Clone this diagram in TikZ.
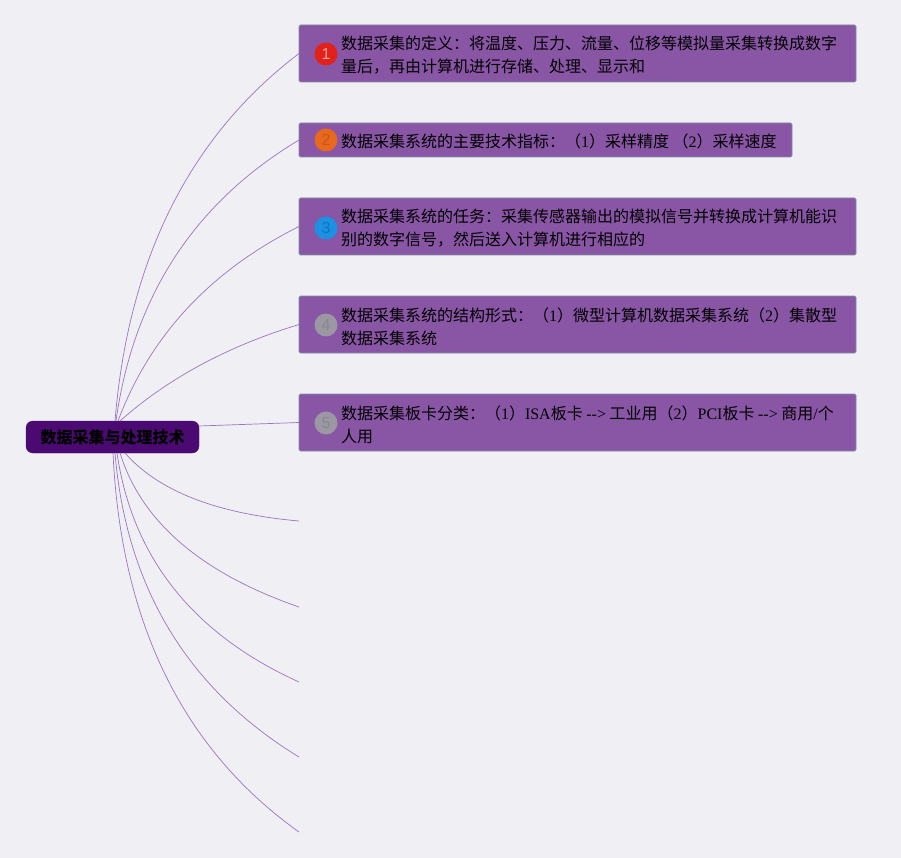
\documentclass[tikz,border=0pt]{standalone}
\usepackage{fontspec}
\setmainfont{Noto Sans CJK SC}
\newfontfamily\latf{Liberation Serif}
\newfontfamily\badgef{Liberation Sans}
\usetikzlibrary{calc}
\definecolor{bg}{HTML}{F0EFF3}
\definecolor{boxfill}{HTML}{8955A5}
\definecolor{boxline}{HTML}{7F8CA3}
\definecolor{rootfill}{HTML}{4A0A72}
\definecolor{branchc}{HTML}{9A74C2}
\definecolor{bredf}{HTML}{E2221A}
\definecolor{bredt}{HTML}{F2A09A}
\definecolor{boraf}{HTML}{E8681C}
\definecolor{borat}{HTML}{C8561E}
\definecolor{bbluf}{HTML}{1A91E3}
\definecolor{bblut}{HTML}{1670C0}
\definecolor{bgryf}{HTML}{9C98A3}
\definecolor{bgryt}{HTML}{8A8592}
\newcommand\lt[1]{{\latf #1}}
\begin{document}
\begin{tikzpicture}[x=1pt,y=-1pt,
  every node/.style={inner sep=0pt,outer sep=0pt},
  box/.style={draw=boxline,line width=0.9pt,fill=boxfill,rounded corners=1.5pt,minimum height=57pt},
  txt/.style={anchor=west,align=left,font=\fontsize{16}{23}\selectfont,text=black},
  badge/.style={circle,minimum size=23pt,font=\badgef\fontsize{16}{16}\selectfont},
  branchline/.style={draw=branchc,line width=0.7pt}]
\fill[bg] (0,0) rectangle (901,858);
\useasboundingbox (0,0) rectangle (901,858);

% root
\node[draw=rootfill,fill=rootfill,rounded corners=7pt,minimum width=173pt,minimum height=32pt,
      font=\fontsize{16}{16}\selectfont\bfseries,text=black] (root) at (112.5,437) {数据采集与处理技术};

% boxes
\node[box,minimum width=557pt] (b1) at (577.5,53.5) {};
\node[box,minimum width=493pt,minimum height=34pt] (b2) at (545.5,140) {};
\node[box,minimum width=557pt] (b3) at (577.5,226.5) {};
\node[box,minimum width=557pt] (b4) at (577.5,324.5) {};
\node[box,minimum width=557pt] (b5) at (577.5,422.5) {};

% badges
\node[badge,fill=bredf,text=bredt] (n1) at (326,54) {1};
\node[badge,fill=boraf,text=borat] (n2) at (326,140) {2};
\node[badge,fill=bbluf,text=bblut] (n3) at (326,228) {3};
\node[badge,fill=bgryf,text=bgryt] (n4) at (326,325) {4};
\node[badge,fill=bgryf,text=bgryt] (n5) at (326,423) {5};

% texts
\node[txt] (t1) at (341,55.5) {数据采集的定义：将温度、压力、流量、位移等模拟量采集转换成数字\\量后，再由计算机进行存储、处理、显示和};
\node[txt] (t2) at (341,141) {数据采集系统的主要技术指标：（\lt{1}）采样精度 （\lt{2}）采样速度};
\node[txt] (t3) at (341,228.5) {数据采集系统的任务：采集传感器输出的模拟信号并转换成计算机能识\\别的数字信号，然后送入计算机进行相应的};
\node[txt] (t4) at (341,326.5) {数据采集系统的结构形式：（\lt{1}）微型计算机数据采集系统（\lt{2}）集散型\\数据采集系统};
\node[txt] (t5) at (341,424.5) {数据采集板卡分类：（\lt{1}）\lt{ISA}板卡 \lt{-\kern0pt->} 工业用（\lt{2}）\lt{PCI}板卡 \lt{-\kern0pt->} 商用\lt{/}个\\人用};

% upper branches (quadratic curves converted to cubic)
\coordinate (s1) at (115,421); \coordinate (c1) at (135,178);
\coordinate (s2) at (116,421); \coordinate (c2) at (142,234);
\coordinate (s3) at (118,421); \coordinate (c3) at (166,293);
\coordinate (s4) at (120,421); \coordinate (c4) at (192,357);
\draw[branchline] (s1) .. controls ($(s1)!2/3!(c1)$) and ($(b1.west)!2/3!(c1)$) .. (b1.west);
\draw[branchline] (s2) .. controls ($(s2)!2/3!(c2)$) and ($(b2.west)!2/3!(c2)$) .. (b2.west);
\draw[branchline] (s3) .. controls ($(s3)!2/3!(c3)$) and ($(b3.west)!2/3!(c3)$) .. (b3.west);
\draw[branchline] (s4) .. controls ($(s4)!2/3!(c4)$) and ($(b4.west)!2/3!(c4)$) .. (b4.west);
\draw[branchline] ($(root.east)+(0,-11)$) -- (b5.west);

% lower branches to empty ends
\coordinate (u1) at (125,453); \coordinate (d1) at (175,510); \coordinate (e1) at (299,521);
\coordinate (u2) at (120,453); \coordinate (d2) at (152,556); \coordinate (e2) at (299,607);
\coordinate (u3) at (117,453); \coordinate (d3) at (140,610); \coordinate (e3) at (299,682);
\coordinate (u4) at (115,453); \coordinate (d4) at (132,655); \coordinate (e4) at (299,757);
\coordinate (u5) at (113,453); \coordinate (d5) at (125,708); \coordinate (e5) at (299,832);
\foreach \i in {1,...,5}{
  \draw[branchline] (u\i) .. controls ($(u\i)!2/3!(d\i)$) and ($(e\i)!2/3!(d\i)$) .. (e\i);
}
\end{tikzpicture}
\end{document}
